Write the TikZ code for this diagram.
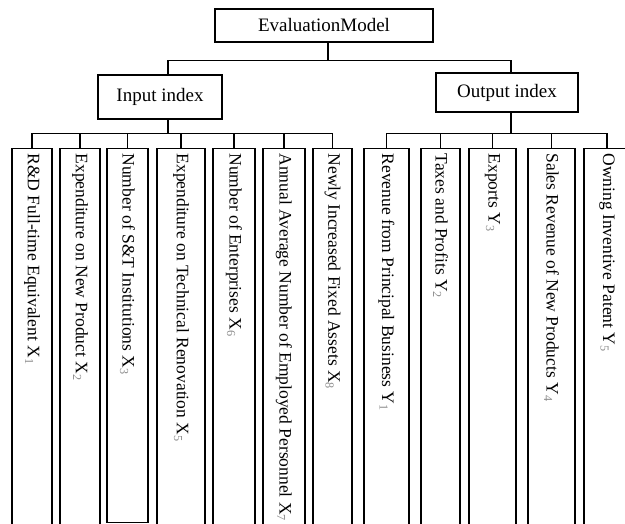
\documentclass[tikz,border=0pt]{standalone}
\usepackage{fontspec}
\setmainfont{Liberation Serif}
\newcommand{\idx}[1]{\textsubscript{\textcolor{black!45}{#1}}}
\begin{document}
\begin{tikzpicture}[x=1pt, y=-1pt, line width=1.2pt,
    top box/.style={rectangle, draw, inner sep=0pt, font=\fontsize{19}{22}\selectfont},
    leaf box/.style={rectangle, draw, rotate=-90, anchor=west, inner xsep=5pt, inner ysep=0pt,
        text width=380pt, align=flush left, font=\fontsize{17.5}{20}\selectfont}]
        \useasboundingbox (0,0) rectangle (625,524);
        \clip (0,0) rectangle (625,524);

          \node[top box, minimum width=218pt, minimum height=33pt] (model) at (324,25.5) {EvaluationModel};
          \node[top box, minimum width=124pt, minimum height=44pt] (input) at (160,97) {Input index};
          \node[top box, minimum width=142pt, minimum height=39pt] (output) at (507,92.5) {Output index};

          % input indexes
          \node[leaf box, minimum height=40pt] (x1) at (32,148) {R\&D Full-time Equivalent X\idx{1}};
          \node[leaf box, minimum height=40pt] (x2) at (80,148) {Expenditure on New Product X\idx{2}};
          \node[leaf box, minimum height=41pt, text width=364pt] (x3) at (127.5,148) {Number of S\&T Institutions X\idx{3}};
          \node[leaf box, minimum height=48pt] (x5) at (181,148) {Expenditure on Technical Renovation X\idx{5}};
          \node[leaf box, minimum height=42pt] (x6) at (234,148) {Number of Enterprises X\idx{6}};
          \node[leaf box, minimum height=42pt] (x7) at (284,148) {Annual Average Number of Employed Personnel X\idx{7}};
          \node[leaf box, minimum height=39pt] (x8) at (332.5,148) {Newly Increased Fixed Assets X\idx{8}};

          % output indexes
          \node[leaf box, minimum height=45pt] (y1) at (386.5,148) {Revenue from Principal Business Y\idx{1}};
          \node[leaf box, minimum height=39pt] (y2) at (440.5,148) {Taxes and Profits Y\idx{2}};
          \node[leaf box, minimum height=47pt] (y3) at (492.5,148) {Exports Y\idx{3}};
          \node[leaf box, minimum height=47pt] (y4) at (551.5,148) {Sales Revenue of New Products Y\idx{4}};
          \node[leaf box, minimum height=46pt] (y5) at (607,148) {Owning Inventive Patent Y\idx{5}};

          \draw ([xshift=4pt]model.south) -- ++(0,18) coordinate (mbus);
          \draw (mbus) -| ([xshift=8pt]input.north)
                (mbus) -| ([xshift=4pt]output.north);

          \draw ([xshift=8pt]input.south) -- ++(0,14) coordinate (ibus);
          \draw (ibus) -| (x1.west)
                (ibus) -| (x2.west)
                (ibus) -| (x3.west)
                (ibus) -| (x5.west)
                (ibus) -| (x6.west)
                (ibus) -| (x7.west)
                (ibus) -| (x8.west);

          \draw ([xshift=4pt]output.south) -- ++(0,21) coordinate (obus);
          \draw (obus) -| (y1.west)
                (obus) -| (y2.west)
                (obus) -| (y3.west)
                (obus) -| (y4.west)
                (obus) -| (y5.west);

        \end{tikzpicture}
\end{document}
